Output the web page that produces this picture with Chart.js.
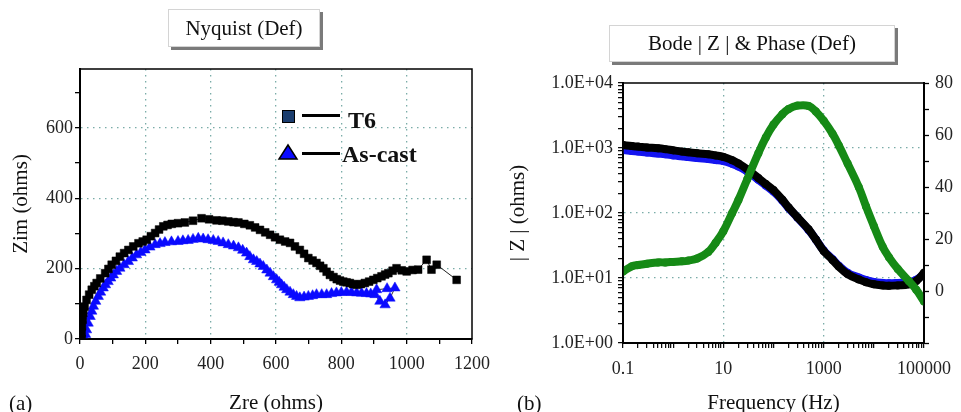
<!DOCTYPE html>
<html><head><meta charset="utf-8">
<script src="https://cdn.jsdelivr.net/npm/chart.js@4"></script>
<style>
html,body{margin:0;padding:0;background:#fff;}
#page{position:relative;width:961px;height:412px;overflow:hidden;font-family:'Liberation Serif','Times New Roman',serif;color:#111;}
canvas{position:absolute;top:0;}
.tbox{position:absolute;background:#fff;border:1px solid #d4d4d4;box-shadow:3px 3px 0 #7a7a7a;font-size:21px;text-align:center;white-space:nowrap;}
.lbl{position:absolute;font-size:21px;line-height:24px;white-space:nowrap;}
.leg{position:absolute;font-weight:bold;font-size:24px;line-height:26px;white-space:nowrap;}
.legline{position:absolute;height:3px;background:#000;}
</style></head>
<body><div id="page">
<canvas id="nyq" width="520" height="412" style="left:0"></canvas>
<canvas id="bode" width="481" height="412" style="left:480px"></canvas>
<div class="tbox" style="left:168px;top:9px;width:150px;height:36px;line-height:36px;">Nyquist (Def)</div>
<div class="tbox" style="left:609px;top:25px;width:284px;height:35px;line-height:35px;">Bode | Z | &amp; Phase (Def)</div>
<div class="lbl" style="left:9px;top:391px;">(a)</div>
<div class="lbl" style="left:517px;top:391px;">(b)</div>
<div id="legend"></div>
</div>
<script>
// ---------- Nyquist data (ohms) ----------
const seriesNames = ['T6', 'As-cast'];
const t6Zre = [5,5,6,8,10,14,20,28,36,44,51,62,77,87,97,110,122,135,148,163,179,192,204,217,230,242,255,268,281,300,321,346,372,395,418,436,454,470,485,503,520,536,551,567,582,597,612,628,643,658,673,686,699,712,724,735,745,755,765,776,786,796,806,816,826,836,847,860,872,885,898,910,923,934,944,957,969,985,1000,1018,1035,1061,1076,1092,1153];
const t6Zim = [0,18,36,55,74,92,111,126,140,150,159,172,187,199,211,222,234,244,253,263,272,277,282,292,301,311,320,324,327,329,331,336,343,340,337,336,334,332,331,327,323,317,310,303,296,289,282,277,273,263,253,242,230,223,216,208,201,191,182,176,170,166,163,161,159,156,154,156,159,163,168,173,178,183,187,194,201,195,192,196,197,225,197,211,168];
const asZre = [15,17,20,25,31,36,41,48,56,63,71,78,86,94,102,112,122,135,148,160,173,186,199,214,230,245,260,280,300,315,331,346,362,377,392,408,423,438,454,470,485,498,510,520,531,541,551,561,572,582,592,602,610,617,625,633,643,653,663,673,686,699,712,724,740,755,770,785,800,816,831,847,862,877,890,903,918,934,949,964,940,908];
const asZim = [0,13,26,45,64,79,93,107,121,133,145,154,163,173,182,192,201,211,220,230,239,246,253,261,268,271,274,276,277,279,280,283,286,284,282,280,277,273,268,264,259,252,244,234,225,220,213,206,196,187,177,168,161,154,147,140,133,126,121,117,119,121,123,126,126,126,129,131,132,133,132,131,130,129,128,126,107,97,116,145,143,140];
const zreTicks = [0,100,200,300,400,500,600,700,800,900,1000,1100,1200];
const zreLabels = [0,200,400,600,800,1000,1200];
const zreGrid = [200,400,600,800,1000];
const zimTicks = [0,100,200,300,400,500,600,700];
const zimLabels = [0,200,400,600];
const zimGrid = [200,400,600];

// ---------- Bode data ----------
const freq = [0.1,0.15,0.2,0.3,0.5,0.7,1,1.5,2,3,5,7,10,15,20,30,50,70,100,150,200,300,500,700,1000,1500,2000,3000,5000,7000,10000,15000,20000,30000,50000,70000,100000];
const zModT6 = [1110,1070,1050,1020,990,960,920,880,860,830,800,770,730,650,580,470,345,280,225,160,122,86,56,39,26,19,15,11.5,9.5,8.6,8.0,7.7,7.6,7.7,8.0,9.0,12];
const zModAsCast = [930,900,880,850,820,800,770,745,725,700,675,655,630,570,520,435,325,265,214,156,119,85,55,39,26.5,19.5,15.5,12,10.2,9.3,8.7,8.4,8.3,8.4,8.6,9.4,11.5];
const phase = [7.5,9.5,10,10.5,11,11,11.2,11.4,11.7,12.5,15,18.5,23,30,35,43,53,59,64,68,70,71.3,71.2,69,65.5,60.5,56,49,40,32.5,25,17,13,8.5,3.8,0.5,-4];
const freqDecades = [0.1,1,10,100,1000,10000];
const zDecades = [1,10,100,1000];
const freqLabels = [0.1,10,1000,100000];
const freqGrid = [10,1000];
const zLabelValues = [1,10,100,1000,10000];
const zLabels = ['1.0E+00','1.0E+01','1.0E+02','1.0E+03','1.0E+04'];
const zGrid = [10,100,1000];
const phaseTicks = [-20,-10,0,10,20,30,40,50,60,70,80];
const phaseLabels = [0,20,40,60,80];

// ---------- helpers ----------
const SERIF = "'Liberation Serif', 'Times New Roman', serif";
const TEAL = '#7aaca8';
const NONE = 'rgba(0,0,0,0)';
Chart.defaults.font.family = SERIF;
const near = (a, b) => Math.abs(a - b) <= Math.abs(b) * 1e-6 + 1e-9;
const inList = (v, list) => list.some(t => near(v, t));
const logTicks = (decades, last) => {
  const out = [];
  decades.forEach(d => { for (let m = 1; m <= 9; m++) out.push(d * m); });
  out.push(last);
  return out.map(v => ({value: v}));
};
const tickFont = {family: SERIF, size: 18};
const titleFont = {family: SERIF, size: 21, lineHeight: 1};
const framePlugin = {
  id: 'frame',
  afterDatasetsDraw(chart) {
    const {ctx, chartArea: a} = chart;
    ctx.save();
    ctx.strokeStyle = '#000';
    ctx.lineWidth = 1.5;
    ctx.strokeRect(a.left, a.top, a.right - a.left, a.bottom - a.top);
    ctx.restore();
  }
};

// ---------- Nyquist chart ----------
new Chart(document.getElementById('nyq'), {
  type: 'line',
  data: {
    datasets: [
      {
        label: seriesNames[0],
        data: t6Zre.map((x, i) => ({x, y: t6Zim[i]})),
        borderColor: '#222', borderWidth: 1,
        pointStyle: 'rect', pointRadius: 5.5,
        pointBackgroundColor: '#000', pointBorderColor: '#000', pointBorderWidth: 0.5,
        order: 1
      },
      {
        label: seriesNames[1],
        data: asZre.map((x, i) => ({x, y: asZim[i]})),
        borderColor: '#333', borderWidth: 1,
        pointStyle: 'triangle', pointRadius: 6,
        pointBackgroundColor: '#0a0aff', pointBorderColor: '#0a0aff', pointBorderWidth: 0.5,
        order: 2
      }
    ]
  },
  options: {
    responsive: false, animation: false, devicePixelRatio: 1,
    layout: {padding: {top: 69, right: 48, left: 0, bottom: 0}},
    plugins: {legend: {display: false}, tooltip: {enabled: false}},
    scales: {
      x: {
        type: 'linear', min: 0, max: 1200,
        afterBuildTicks: s => { s.ticks = zreTicks.map(v => ({value: v})); },
        afterFit: s => { s.height = 73; },
        ticks: {autoSkip: false, maxRotation: 0, padding: 9, font: tickFont, color: '#222',
          callback: v => inList(v, zreLabels) ? String(v) : ''},
        grid: {color: c => (c.tick && inList(c.tick.value, zreGrid)) ? TEAL : NONE,
          lineWidth: 1.3, tickColor: '#000', tickLength: 5, tickWidth: 1.3},
        border: {color: '#000', width: 2, dash: [1.5, 4.5]},
        title: {display: true, text: 'Zre (ohms)', font: titleFont, color: '#111', padding: {top: 0, bottom: -2}}
      },
      y: {
        type: 'linear', min: 0, max: 767,
        afterBuildTicks: s => { s.ticks = zimTicks.map(v => ({value: v})); },
        afterFit: s => { s.width = 80; },
        ticks: {autoSkip: false, padding: 2, font: tickFont, color: '#222',
          callback: v => inList(v, zimLabels) ? String(v) : ''},
        grid: {color: c => (c.tick && inList(c.tick.value, zimGrid)) ? TEAL : NONE,
          lineWidth: 1.3, tickColor: '#000', tickLength: 5, tickWidth: 1.3},
        border: {color: '#000', width: 2, dash: [1.5, 4.5]},
        title: {display: true, text: 'Zim (ohms)', font: titleFont, color: '#111', padding: {top: 11, bottom: 0}}
      }
    }
  },
  plugins: [framePlugin]
});

// ---------- Bode chart ----------
new Chart(document.getElementById('bode'), {
  type: 'line',
  data: {
    datasets: [
      {
        label: 'Phase',
        data: freq.map((f, i) => ({x: f, y: phase[i]})),
        yAxisID: 'y2',
        borderColor: '#168a16', borderWidth: 8, tension: 0.4,
        borderCapStyle: 'round', borderJoinStyle: 'round',
        pointRadius: 4, pointBackgroundColor: '#168a16', pointBorderWidth: 0,
        order: 1
      },
      {
        label: '|Z| ' + seriesNames[0],
        data: freq.map((f, i) => ({x: f, y: zModT6[i]})),
        yAxisID: 'y',
        borderColor: '#000', borderWidth: 8, tension: 0.4,
        borderCapStyle: 'round', borderJoinStyle: 'round',
        pointRadius: 4, pointBackgroundColor: '#000', pointBorderWidth: 0,
        order: 2
      },
      {
        label: '|Z| ' + seriesNames[1],
        data: freq.map((f, i) => ({x: f, y: zModAsCast[i]})),
        yAxisID: 'y',
        borderColor: '#1414f0', borderWidth: 8, tension: 0.4,
        borderCapStyle: 'round', borderJoinStyle: 'round',
        pointRadius: 4, pointBackgroundColor: '#1414f0', pointBorderWidth: 0,
        order: 3
      }
    ]
  },
  options: {
    responsive: false, animation: false, devicePixelRatio: 1,
    layout: {padding: {top: 83, right: 0, left: 0, bottom: 0}},
    plugins: {legend: {display: false}, tooltip: {enabled: false}},
    scales: {
      x: {
        type: 'logarithmic', min: 0.1, max: 100000,
        afterBuildTicks: s => { s.ticks = logTicks(freqDecades, 100000); },
        afterFit: s => { s.height = 69; },
        ticks: {autoSkip: false, maxRotation: 0, minRotation: 0, padding: 10, font: tickFont, color: '#222',
          callback: v => { const i = freqLabels.findIndex(t => near(v, t)); return i >= 0 ? String(freqLabels[i]) : ''; }},
        grid: {color: c => (c.tick && inList(c.tick.value, freqGrid)) ? TEAL : NONE,
          lineWidth: 1.3, tickColor: '#000', tickLength: 5, tickWidth: 1.2},
        border: {color: '#000', width: 2, dash: [1.5, 4.5]},
        title: {display: true, text: 'Frequency (Hz)', font: titleFont, color: '#111', padding: {top: 0, bottom: -2}}
      },
      y: {
        type: 'logarithmic', position: 'left', min: 1, max: 10000,
        afterBuildTicks: s => { s.ticks = logTicks(zDecades, 10000); },
        afterFit: s => { s.width = 143; },
        ticks: {autoSkip: false, padding: 5, font: tickFont, color: '#222',
          callback: v => { const i = zLabelValues.findIndex(t => near(v, t)); return i >= 0 ? zLabels[i] : ''; }},
        grid: {color: c => (c.tick && inList(c.tick.value, zGrid)) ? TEAL : NONE,
          lineWidth: 1.3, tickColor: '#000', tickLength: 5, tickWidth: 1.2},
        border: {color: '#000', width: 2, dash: [1.5, 4.5]},
        title: {display: true, text: '| Z | (ohms)', font: titleFont, color: '#111', padding: {top: 28, bottom: 0}}
      },
      y2: {
        type: 'linear', position: 'right', min: -20, max: 80,
        afterBuildTicks: s => { s.ticks = phaseTicks.map(v => ({value: v})); },
        afterFit: s => { s.width = 29; },
        ticks: {autoSkip: false, padding: 6, font: tickFont, color: '#222',
          callback: v => inList(v, phaseLabels) ? String(v) : ''},
        grid: {drawOnChartArea: false, tickColor: '#000', tickLength: 5, tickWidth: 1.3},
        border: {color: '#000', width: 2}
      }
    }
  },
  plugins: [framePlugin]
});

// ---------- legend (inside the Nyquist plot) ----------
const leg = document.getElementById('legend');
leg.innerHTML =
  '<div style="position:absolute;left:282px;top:110px;width:11px;height:11px;background:#1b3d6e;border:1.5px solid #000;"></div>' +
  '<div class="legline" style="left:302px;top:114px;width:38px;"></div>' +
  '<div class="leg" style="left:348px;top:107px;">' + seriesNames[0] + '</div>' +
  '<svg style="position:absolute;left:277px;top:143px;" width="22" height="18"><polygon points="11,2 20,16 2,16" fill="#0a0aff" stroke="#000" stroke-width="1.5"/></svg>' +
  '<div class="legline" style="left:302px;top:152px;width:38px;"></div>' +
  '<div class="leg" style="left:342px;top:141px;">' + seriesNames[1] + '</div>';
</script>
</body></html>
